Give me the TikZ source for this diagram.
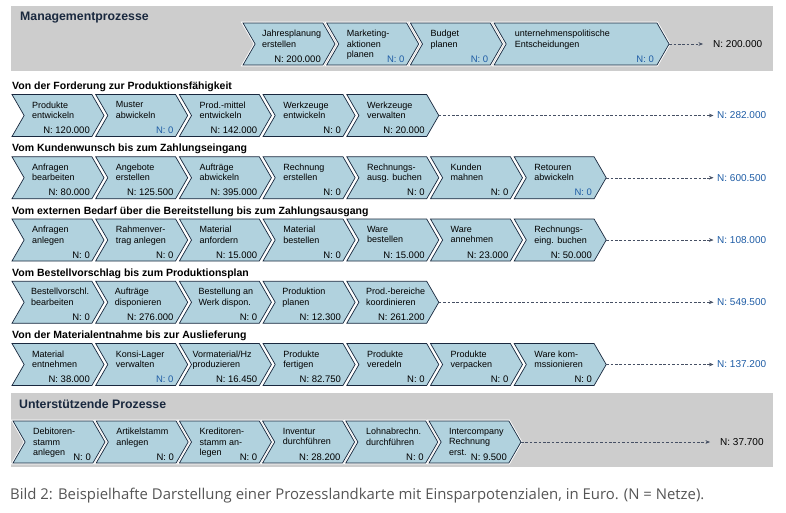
\documentclass[tikz,border=0pt]{standalone}
\usepackage{fontspec}
\setmainfont{Liberation Sans}
\newfontfamily\captionfont{Open Sans}
\usetikzlibrary{shapes.symbols}
\usetikzlibrary{positioning,calc,arrows.meta}

\definecolor{chevfill}{RGB}{177,210,222}
\definecolor{chevline}{RGB}{25,40,62}
\definecolor{bandgrey}{RGB}{205,205,205}
\definecolor{nblue}{RGB}{30,92,165}
\definecolor{flowgrey}{RGB}{70,80,100}
\definecolor{captiongrey}{RGB}{85,85,85}

\tikzset{
  chev/.style={signal, signal from=west, signal to=east, signal pointer angle=120,
    minimum width=92pt, minimum height=42pt, inner sep=0pt, outer sep=0pt,
    fill=chevfill, draw=chevline, line width=0.7pt,
    preaction={draw=white, line width=2.6pt}},
  wide chev/.style={chev, minimum width=175pt},
  chevtext/.style={anchor=north west, align=left, inner sep=0pt, font=\fontsize{9}{10.5}\selectfont},
  chevval/.style={anchor=base east, inner sep=0pt, font=\fontsize{9.5}{11}\selectfont},
  rowtitle/.style={anchor=base west, inner sep=0pt, font=\bfseries\fontsize{10.5}{12}\selectfont},
  bandtitle/.style={anchor=base west, inner sep=0pt, text=chevline, font=\bfseries\fontsize{12.3}{14}\selectfont},
  sum label/.style={anchor=west, inner sep=2pt, font=\fontsize{10}{12}\selectfont},
  flow/.style={->, draw=flowgrey, line width=0.5pt, dash pattern=on 2.6pt off 1.8pt, shorten >=1.5pt}
}

\begin{document}
\begin{tikzpicture}[x=1pt,y=-1pt,>={Stealth[length=4.5pt,width=3.6pt]}]
\useasboundingbox (0,0) rectangle (786,512);

% Managementprozesse
\fill[bandgrey] (11,6) rectangle (773,71);
\node[bandtitle] (mgmt) at (20,20) {Managementprozesse};
\node[chev] (m1) at (289,44) {};
\node[chev] (m2) at (372.7,44) {};
\node[chev] (m3) at (456.4,44) {};
\node[wide chev] (m4) at (581.6,44) {};
\node[chevtext] at ($(m1.center)+(-27,-14)$) {Jahresplanung\\erstellen};
\node[chevtext] at ($(m2.center)+(-26,-14)$) {Marketing-\\aktionen\\planen};
\node[chevtext] at ($(m3.center)+(-26,-14)$) {Budget\\planen};
\node[chevtext] at ($(m4.center)+(-67,-14)$) {unternehmenspolitische\\Entscheidungen};
\node[chevval] at ($(m1.center)+(32,18)$) {N: 200.000};
\node[chevval, text=nblue] at ($(m2.center)+(32,18)$) {N: 0};
\node[chevval, text=nblue] at ($(m3.center)+(32,18)$) {N: 0};
\node[chevval, text=nblue] at ($(m4.center)+(72.5,18)$) {N: 0};
\node[sum label] (msum) at (711,44) {N: 200.000};
\draw[flow, shorten >=8pt] (m4.east) -- (msum);

% Forderung -> Produktionsfaehigkeit
\node[rowtitle] at (12,89.5) {Von der Forderung zur Produktionsfähigkeit};
\foreach \txt/\val/\col [count=\i from 0] in {
    {Produkte\\entwickeln}/120.000/black,
    {Muster\\abwickeln}/0/nblue,
    {Prod.-mittel\\entwickeln}/142.000/black,
    {Werkzeuge\\entwickeln}/0/black,
    {Werkzeuge\\verwalten}/20.000/black}{
  \node[chev] (fp\i) at (58+83.7*\i,115.5) {};
  \node[chevtext] at ($(fp\i.center)+(-26,-14)$) {\txt};
  \node[chevval, text=\col] at ($(fp\i.center)+(32,18)$) {N: \val};
}
\node[sum label, text=nblue] (fpsum) at (715,115.5) {N: 282.000};
\draw[flow] (fp4.east) -- (fpsum);

% Kundenwunsch -> Zahlungseingang
\node[rowtitle] at (12,151.75) {Vom Kundenwunsch bis zum Zahlungseingang};
\foreach \txt/\val/\col [count=\i from 0] in {
    {Anfragen\\bearbeiten}/80.000/black,
    {Angebote\\erstellen}/125.500/black,
    {Aufträge\\abwickeln}/395.000/black,
    {Rechnung\\erstellen}/0/black,
    {Rechnungs-\\ausg. buchen}/0/black,
    {Kunden\\mahnen}/0/black,
    {Retouren\\abwickeln}/0/nblue}{
  \node[chev] (kz\i) at (58+83.7*\i,177.75) {};
  \node[chevtext] at ($(kz\i.center)+(-26,-14)$) {\txt};
  \node[chevval, text=\col] at ($(kz\i.center)+(32,18)$) {N: \val};
}
\node[sum label, text=nblue] (kzsum) at (715,177.75) {N: 600.500};
\draw[flow] (kz6.east) -- (kzsum);

% externer Bedarf -> Zahlungsausgang
\node[rowtitle] at (12,214) {Vom externen Bedarf über die Bereitstellung bis zum Zahlungsausgang};
\foreach \txt/\val/\col [count=\i from 0] in {
    {Anfragen\\anlegen}/0/black,
    {Rahmenver-\\trag anlegen}/0/black,
    {Material\\anfordern}/15.000/black,
    {Material\\bestellen}/0/black,
    {Ware\\bestellen}/15.000/black,
    {Ware\\annehmen}/23.000/black,
    {Rechnungs-\\eing. buchen}/50.000/black}{
  \node[chev] (bz\i) at (58+83.7*\i,240) {};
  \node[chevtext] at ($(bz\i.center)+(-26,-14)$) {\txt};
  \node[chevval, text=\col] at ($(bz\i.center)+(32,18)$) {N: \val};
}
\node[sum label, text=nblue] (bzsum) at (715,240) {N: 108.000};
\draw[flow] (bz6.east) -- (bzsum);

% Bestellvorschlag -> Produktionsplan
\node[rowtitle] at (12,276.25) {Vom Bestellvorschlag bis zum Produktionsplan};
\foreach \txt/\val/\col [count=\i from 0] in {
    {Bestellvorschl.\\bearbeiten}/0/black,
    {Aufträge\\disponieren}/276.000/black,
    {Bestellung an\\Werk dispon.}/0/black,
    {Produktion\\planen}/12.300/black,
    {Prod.-bereiche\\koordinieren}/261.200/black}{
  \node[chev] (bp\i) at (58+83.7*\i,302.25) {};
  \node[chevtext] at ($(bp\i.center)+(-27,-14)$) {\txt};
  \node[chevval, text=\col] at ($(bp\i.center)+(32,18)$) {N: \val};
}
\node[sum label, text=nblue] (bpsum) at (715,302.25) {N: 549.500};
\draw[flow] (bp4.east) -- (bpsum);

% Materialentnahme -> Auslieferung
\node[rowtitle] at (12,338.5) {Von der Materialentnahme bis zur Auslieferung};
\foreach \txt/\val/\col/\dx [count=\i from 0] in {
    {Material\\entnehmen}/38.000/black/-26,
    {Konsi-Lager\\verwalten}/0/nblue/-26,
    {Vormaterial/Hz\\produzieren}/16.450/black/-33,
    {Produkte\\fertigen}/82.750/black/-26,
    {Produkte\\veredeln}/0/black/-26,
    {Produkte\\verpacken}/0/black/-26,
    {Ware kom-\\mssionieren}/0/black/-26}{
  \node[chev] (ma\i) at (58+83.7*\i,364.5) {};
  \node[chevtext] at ($(ma\i.center)+(\dx,-14)$) {\txt};
  \node[chevval, text=\col] at ($(ma\i.center)+(32,18)$) {N: \val};
}
\node[sum label, text=nblue] (masum) at (715,364.5) {N: 137.200};
\draw[flow] (ma6.east) -- (masum);

% Unterstuetzende Prozesse
\fill[bandgrey] (11,393) rectangle (773,467);
\node[bandtitle] (supp) at (19,408) {Unterstützende Prozesse};
\foreach \txt/\val [count=\i from 0] in {
    {Debitoren-\\stamm\\anlegen}/0,
    {Artikelstamm\\anlegen}/0,
    {Kreditoren-\\stamm an-\\legen}/0,
    {Inventur\\durchführen}/28.200,
    {Lohnabrechn.\\durchführen}/0,
    {Intercompany\\Rechnung\\erst.}/9.500}{
  \node[chev] (up\i) at (59+83.2*\i,442) {};
  \node[chevtext] at ($(up\i.center)+(-26,-14)$) {\txt};
  \node[chevval] at ($(up\i.center)+(32,18)$) {N: \val};
}
\node[sum label] (upsum) at (718,442) {N: 37.700};
\draw[flow, shorten >=8pt] (up5.east) -- (upsum);

% caption
\node[anchor=base west, inner sep=0pt, text=captiongrey, font=\captionfont\fontsize{14.9}{17}\selectfont] (caption) at (10,499)
  {Bild 2: Beispielhafte Darstellung einer Prozesslandkarte mit Einsparpotenzialen, in Euro. (N = Netze).};
\end{tikzpicture}
\end{document}
